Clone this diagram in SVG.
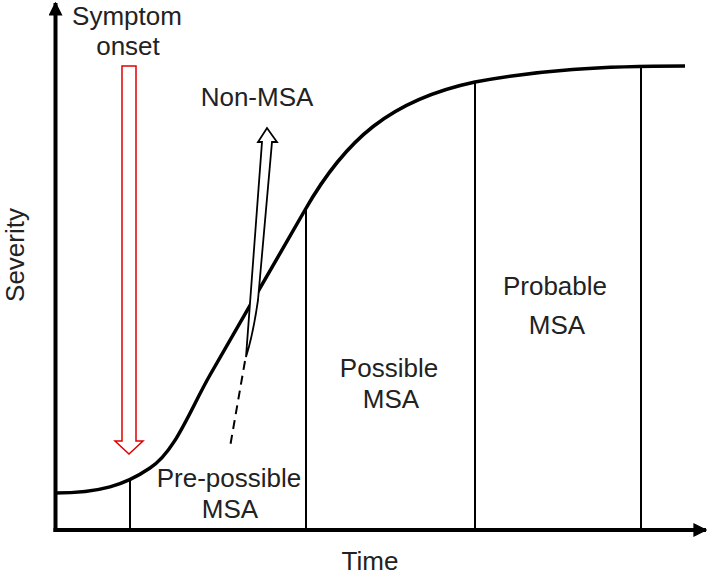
<svg xmlns="http://www.w3.org/2000/svg" width="709" height="576" viewBox="0 0 709 576">
<style>
text{font-family:"Liberation Sans",Arial,sans-serif;font-size:26px;fill:#222;text-anchor:middle}
.ax{stroke:#000;stroke-width:4;fill:none}
.v{stroke:#000;stroke-width:2;fill:none}
</style>
<defs>
<marker id="ah" viewBox="0 0 10 10" refX="9" refY="5" markerWidth="3.5" markerHeight="3.5" orient="auto" markerUnits="strokeWidth"><path d="M0,0L10,5L0,10z" fill="#000"/></marker>
</defs>
<g id="axes">
<line class="ax" x1="55.5" y1="532" x2="55.5" y2="3" marker-end="url(#ah)"/>
<line class="ax" x1="53.5" y1="530" x2="706" y2="530" marker-end="url(#ah)"/>
</g>
<g id="connectors">
<path id="curve" d="M55,493 C100,493 125,485 150,468 C175,452 190,410 210,375 L305,210 C345,140 390,100 475,82 C540,70 600,66 685,66" fill="none" stroke="#000" stroke-width="3.5"/>
<line class="v" x1="130" y1="480" x2="130" y2="530"/>
<line class="v" x1="306" y1="208" x2="306" y2="530"/>
<line class="v" x1="475" y1="82" x2="475" y2="530"/>
<line class="v" x1="641" y1="67" x2="641" y2="530"/>
<path id="red-arrow" d="M122,66 L136,66 L136,441 L143,441 L129,454 L115,441 L122,441 Z" fill="none" stroke="#e00000" stroke-width="1.5"/>
<path id="nonmsa-arrow" d="M246,357 L262,142 L258,142 L267,128 L277,142 L272,142 L258,300 Q253,335 246,357 Z" fill="#fff" stroke="#000" stroke-width="1.8" stroke-linejoin="miter"/>
<line x1="245" y1="361" x2="230" y2="447" stroke="#000" stroke-width="2" stroke-dasharray="9,6"/>
</g>
<g id="label-symptom"><text x="127" y="25">Symptom</text><text x="128" y="55">onset</text></g>
<g id="label-nonmsa"><text x="257" y="106">Non-MSA</text></g>
<g id="label-severity"><text transform="translate(24,255) rotate(-90)">Severity</text></g>
<g id="label-time"><text x="370" y="570">Time</text></g>
<g id="label-prepossible"><text x="229" y="487">Pre-possible</text><text x="230" y="518">MSA</text></g>
<g id="label-possible"><text x="389" y="377">Possible</text><text x="391" y="408">MSA</text></g>
<g id="label-probable"><text x="555" y="295">Probable</text><text x="557" y="334">MSA</text></g>
</svg>
